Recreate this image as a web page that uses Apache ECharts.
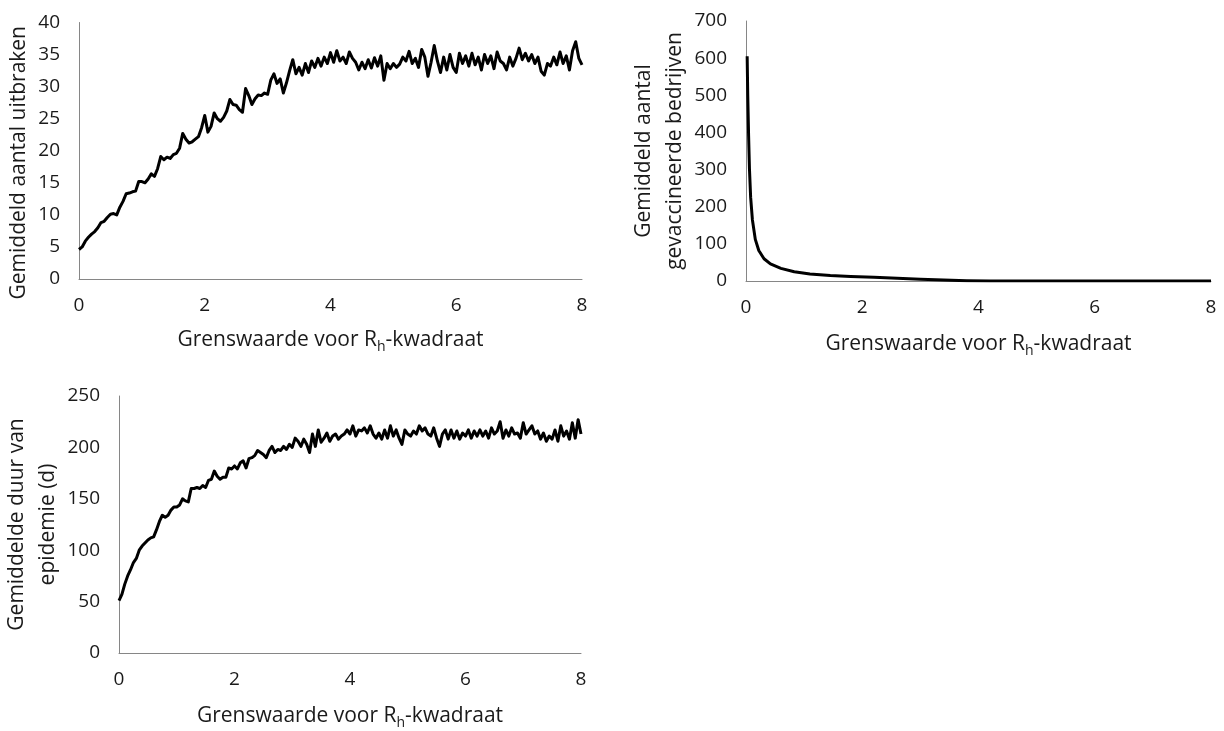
<!DOCTYPE html>
<html>
<head>
    <meta charset="utf-8">
    <title>Grenswaarde voor Rh-kwadraat</title>
    <script src="https://cdn.jsdelivr.net/npm/echarts@6/dist/echarts.min.js"></script>
    <style>
        html, body { margin: 0; padding: 0; background: #fff; }
        #main { width: 1224px; height: 731px; }
    </style>
</head>
<body>
<div id="main"></div>
<script>
    // sample spacing of the threshold (x) for the two noisy curves
    var STEP = 0.05;

    // Gemiddeld aantal uitbraken, x = 0, 0.05, ... 8
    var outbreaks = [
        4.6, 5.0, 5.9, 6.5, 7.0, 7.4, 8.0, 8.8, 9.0, 9.6,
        10.1, 10.2, 10.0, 11.2, 12.1, 13.3, 13.4, 13.6, 13.7, 15.2,
        15.2, 15.0, 15.6, 16.4, 16.0, 17.2, 19.1, 18.6, 19.0, 18.8,
        19.4, 19.6, 20.4, 22.7, 21.8, 21.2, 21.4, 21.8, 22.2, 23.6,
        25.5, 22.9, 23.8, 25.9, 25.0, 24.6, 25.2, 26.2, 28.0, 27.2,
        27.1, 26.4, 26.0, 29.7, 28.6, 27.2, 28.1, 28.7, 28.6, 29.0,
        28.8, 31.0, 32.0, 30.5, 31.2, 29.0, 30.6, 32.5, 34.2, 32.0,
        33.0, 31.8, 33.6, 32.2, 34.0, 33.0, 34.4, 33.2, 34.6, 33.6,
        35.3, 33.8, 35.6, 34.0, 34.6, 33.6, 35.4, 34.4, 33.8, 32.6,
        33.8, 32.8, 34.2, 32.9, 34.5, 33.2, 34.8, 31.0, 33.6, 32.8,
        33.6, 33.0, 33.5, 34.6, 34.0, 35.5, 33.6, 34.4, 33.0, 35.8,
        34.6, 31.6, 33.8, 36.4, 34.0, 32.2, 34.6, 32.6, 35.0, 33.0,
        32.2, 35.2, 33.6, 34.8, 33.2, 35.2, 33.4, 34.6, 32.6, 35.0,
        33.6, 34.8, 32.8, 35.4, 34.0, 33.6, 32.6, 34.6, 33.2, 34.4,
        36.0, 34.2, 35.2, 34.0, 35.0, 33.6, 34.6, 32.4, 31.8, 33.6,
        33.2, 34.6, 33.4, 35.4, 33.6, 34.8, 32.6, 35.6, 37.0, 34.4,
        33.4
    ];

    // Gemiddelde duur van epidemie (d), x = 0, 0.05, ... 8
    var duration = [
        51, 57, 67, 75, 81, 88, 92, 100, 104, 107,
        110, 112, 113, 120, 128, 134, 132, 134, 139, 142,
        142, 144, 150, 148, 147, 160, 160, 161, 160, 163,
        161, 168, 169, 177, 172, 169, 171, 171, 180, 179,
        182, 179, 185, 187, 180, 189, 190, 192, 197, 195,
        193, 190, 197, 201, 195, 198, 197, 201, 198, 203,
        200, 209, 206, 201, 208, 203, 195, 213, 201, 217,
        205, 209, 214, 206, 211, 213, 208, 211, 213, 217,
        213, 221, 211, 217, 216, 219, 214, 221, 213, 209,
        214, 208, 217, 209, 221, 211, 217, 209, 203, 217,
        213, 211, 216, 213, 221, 216, 219, 213, 211, 219,
        209, 201, 213, 217, 208, 217, 209, 216, 208, 214,
        211, 217, 209, 216, 211, 217, 211, 216, 209, 219,
        213, 216, 225, 209, 217, 211, 219, 213, 214, 209,
        224, 213, 217, 221, 213, 216, 208, 214, 206, 211,
        208, 217, 206, 221, 211, 216, 208, 224, 209, 227,
        213
    ];

    // Gemiddeld aantal gevaccineerde bedrijven (smooth curve)
    var vaccX = [0.02, 0.03, 0.045, 0.06, 0.08, 0.11, 0.16, 0.22, 0.31, 0.42,
                 0.6, 0.83, 1.1, 1.45, 1.8, 2.2, 2.6, 3.0, 3.4, 3.8, 4.2, 5, 6, 7, 8];
    var vaccY = [605, 500, 390, 300, 225, 165, 112, 82, 60, 46,
                 34, 25, 19, 14.5, 12, 9.8, 7.5, 5, 2.5, 0.6, 0, 0, 0, 0, 0];

    var xTicks = [0, 2, 4, 6, 8];

    var FONT = '"Open Sans", "Noto Sans", sans-serif';
    var TEXT = '#1a1a1a';
    var AXIS = '#868686';
    var xTitle = 'Grenswaarde voor R{s|h}-kwadraat';

    function onGrid(ys) {
        return ys.map(function (v, i) { return [+(i * STEP).toFixed(2), v]; });
    }

    function xAxis(idx, gap) {
        return {
            type: 'value', gridIndex: idx,
            min: xTicks[0], max: xTicks[xTicks.length - 1], interval: 2,
            axisLine: { show: true, onZero: false, lineStyle: { color: AXIS, width: 1 } },
            axisTick: { show: false },
            splitLine: { show: false },
            axisLabel: { color: TEXT, fontSize: 19, fontFamily: FONT, margin: 17 },
            name: xTitle, nameLocation: 'middle', nameGap: gap,
            nameTextStyle: {
                color: TEXT, fontSize: 21, fontFamily: FONT,
                rich: { s: { fontSize: 14, fontFamily: FONT, color: TEXT, padding: [14, 0, 0, 0] } }
            }
        };
    }

    // lift: moves the rotated title down the axis (px)
    function yAxis(idx, max, interval, name, gap, lift) {
        return {
            type: 'value', gridIndex: idx, min: 0, max: max, interval: interval,
            axisLine: { show: true, lineStyle: { color: AXIS, width: 1 } },
            axisTick: { show: false },
            splitLine: { show: false },
            axisLabel: { color: TEXT, fontSize: 19, fontFamily: FONT, margin: 19 },
            name: name, nameLocation: 'middle', nameGap: gap,
            nameTextStyle: {
                color: TEXT, fontSize: 21, fontFamily: FONT, lineHeight: 31,
                padding: [0, lift * 2, 0, 0]
            }
        };
    }

    function line(idx, data) {
        return {
            type: 'line', xAxisIndex: idx, yAxisIndex: idx, data: data,
            showSymbol: false, symbol: 'none', animation: false,
            lineStyle: { color: '#000', width: 3, join: 'round' }
        };
    }

    var chart = echarts.init(document.getElementById('main'));
    chart.setOption({
        backgroundColor: '#fff',
        animation: false,
        grid: [
            { left: 79, top: 18, width: 503, height: 261 },
            { left: 746, top: 21, width: 465, height: 260 },
            { left: 119, top: 396, width: 462, height: 260 }
        ],
        xAxis: [xAxis(0, 47), xAxis(1, 49), xAxis(2, 49)],
        yAxis: [
            yAxis(0, 40, 5, 'Gemiddeld aantal uitbraken', 44, 12),
            yAxis(1, 700, 100, 'Gemiddeld aantal\ngevaccineerde bedrijven', 53, 0),
            yAxis(2, 250, 50, 'Gemiddelde duur van\nepidemie (d)', 52, 0)
        ],
        series: [
            line(0, onGrid(outbreaks)),
            line(1, vaccX.map(function (x, i) { return [x, vaccY[i]]; })),
            line(2, onGrid(duration))
        ]
    });
</script>
</body>
</html>
